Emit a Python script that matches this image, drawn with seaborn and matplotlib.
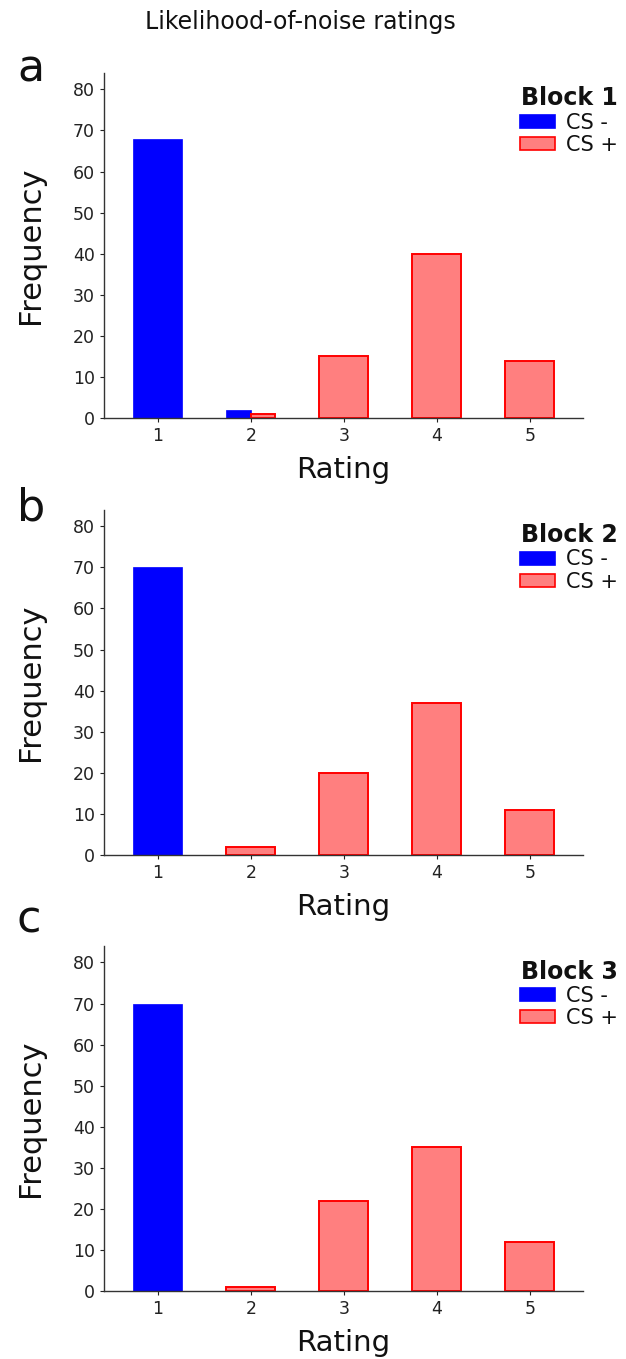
import pandas as pd
import seaborn as sns
import matplotlib.pyplot as plt
from matplotlib.colors import to_rgba
from matplotlib.patches import Patch

# data
ratings = ['1', '2', '3', '4', '5']
conditions = ['CS -', 'CS +']
blocks = ['Block 1', 'Block 2', 'Block 3']
panel_letters = ['a', 'b', 'c']
cs_minus = [[68, 2, 0, 0, 0],
            [70, 0, 0, 0, 0],
            [70, 0, 0, 0, 0]]
cs_plus = [[0, 1, 15, 40, 14],
           [0, 2, 20, 37, 11],
           [0, 1, 22, 35, 12]]

face = {'CS -': '#0000ff', 'CS +': '#ff7f7f'}
edge = {'CS -': '#0000ff', 'CS +': '#ff0000'}

sns.set_style('ticks')
plt.rcParams['font.family'] = ['DejaVu Sans']
plt.rcParams['text.color'] = '#111111'
plt.rcParams['axes.labelcolor'] = '#111111'

fig = plt.figure(figsize=(6.26, 13.59), dpi=100)
fig.text(0.48, 0.984, 'Likelihood-of-noise ratings', ha='center', va='center', fontsize=17)

bottoms = [0.6924, 0.3709, 0.05]
letter_y = [0.94, 0.617, 0.314]

for i in range(3):
    ax = fig.add_axes([0.166, bottoms[i], 0.765, 0.2539])
    df = pd.DataFrame({
        'Rating': ratings * 2,
        'cond': ['CS -'] * 5 + ['CS +'] * 5,
        'freq': cs_minus[i] + cs_plus[i],
    })
    df = df[df['freq'] > 0]
    n = df.groupby('Rating')['cond'].transform('count')
    shared = df[n > 1]
    solo = df[n == 1]

    # bars alone in their rating get full width, shared ratings are split
    sns.barplot(data=solo, x='Rating', y='freq', hue='cond', order=ratings,
                hue_order=conditions, palette=face, dodge=False, width=0.53,
                saturation=1, errorbar=None, legend=False, ax=ax)
    if len(shared):
        sns.barplot(data=shared, x='Rating', y='freq', hue='cond', order=ratings,
                    hue_order=conditions, palette=face, dodge=True, width=0.53,
                    saturation=1, errorbar=None, legend=False, ax=ax)

    for p in ax.patches:
        for c in conditions:
            if to_rgba(p.get_facecolor()) == to_rgba(face[c]):
                p.set_edgecolor(edge[c])
                p.set_linewidth(1.4 if c == 'CS +' else 0.5)

    ax.set_xlim(-0.58, 4.57)
    ax.set_ylim(0, 84)
    ax.set_yticks(range(0, 81, 10))
    ax.set_xlabel('Rating', fontsize=21, labelpad=8)
    ax.set_ylabel('Frequency', fontsize=22, labelpad=20)
    ax.tick_params(labelsize=12.5, length=3, width=0.8, colors='#222222')
    sns.despine(ax=ax)
    for s in ['left', 'bottom']:
        ax.spines[s].set_color('#333333')
        ax.spines[s].set_linewidth(1.0)

    handles = [Patch(facecolor=face[c], edgecolor=edge[c], linewidth=1.2) for c in conditions]
    leg = ax.legend(handles, conditions, title=blocks[i], loc='upper right',
                    bbox_to_anchor=(1.09, 0.985), frameon=False, fontsize=15,
                    title_fontproperties={'weight': 'bold', 'size': 17},
                    handlelength=1.7, handleheight=0.6, handletextpad=0.5,
                    labelspacing=0.1, borderaxespad=0)
    leg._legend_box.align = 'right'

    fig.text(0.027, letter_y[i], panel_letters[i], fontsize=32, va='baseline')

fig.savefig('out.png', dpi=100)
